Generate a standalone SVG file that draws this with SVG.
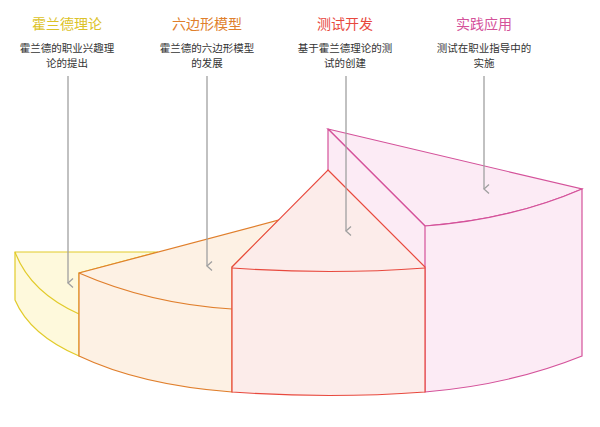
<svg xmlns="http://www.w3.org/2000/svg" width="600" height="427" viewBox="0 0 600 427">
<style>
.t{font-family:"Noto Sans CJK SC",sans-serif;font-size:14px;text-anchor:middle}
.d{font-family:"Noto Sans CJK SC",sans-serif;font-size:10.5px;fill:#333;text-anchor:middle}
.c{stroke:#a0a0a0;stroke-width:1.3;fill:none}
</style>
<defs><marker id="a" markerWidth="10" markerHeight="10" refX="5" refY="8" orient="auto" markerUnits="userSpaceOnUse" viewBox="0 0 10 10"><path d="M0.5,3 L5,8 L9.5,3" fill="none" stroke="#a0a0a0" stroke-width="1.3"/></marker></defs>
<g id="n4" fill="#fcebf5" stroke="#d4529a" stroke-width="1.2">
<path d="M328,129 L582,189 Q510,220 425,226 L328,129 Z"/>
<path d="M328,129 L425,226 L425,392 L328,392 Z" stroke="none"/>
<path d="M328,129 L328,170 M328,129 L425,226" fill="none"/>
<path d="M425,226 Q510,220 582,189 L582,356 Q510,385 425,392 Z"/>
</g>
<g id="n1" fill="#fef9dc" stroke="#e2cb2a" stroke-width="1.2">
<path d="M15,252 L158,252 L79,273 L79,356 Q30,335 15,300 Z"/>
<path d="M15,252 Q30,292 79,314" fill="none"/>
</g>
<g id="n2" fill="#fdf1e4" stroke="#e07f2c" stroke-width="1.2">
<path d="M79,273 L279,220 L232,267 L232,392 Q140,385 79,356 Z"/>
<path d="M79,273 Q150,304 232,309" fill="none"/>
</g>
<g id="n3" fill="#fcecea" stroke="#e8493e" stroke-width="1.2">
<path d="M328,170 L425,267 L425,392 Q330,399 232,392 L232,267 Z"/>
<path d="M232,268 Q330,275 425,268" fill="none"/>
</g>
<g id="labels">
<text class="t" x="67" y="29" fill="#dcc228">霍兰德理论</text>
<text class="d" x="67" y="52">霍兰德的职业兴趣理</text><text class="d" x="67" y="67">论的提出</text>
<text class="t" x="207" y="29" fill="#e07f2c">六边形模型</text>
<text class="d" x="207" y="52">霍兰德的六边形模型</text><text class="d" x="207" y="67">的发展</text>
<text class="t" x="345" y="29" fill="#e8493e">测试开发</text>
<text class="d" x="345" y="52">基于霍兰德理论的测</text><text class="d" x="345" y="67">试的创建</text>
<text class="t" x="484" y="29" fill="#d4529a">实践应用</text>
<text class="d" x="484" y="52">测试在职业指导中的</text><text class="d" x="484" y="67">实施</text>
</g>
<g id="connectors">
<line class="c" x1="68" y1="76" x2="68" y2="283" marker-end="url(#a)"/>
<line class="c" x1="207" y1="76" x2="207" y2="266" marker-end="url(#a)"/>
<line class="c" x1="346" y1="76" x2="346" y2="231" marker-end="url(#a)"/>
<line class="c" x1="484" y1="76" x2="484" y2="189" marker-end="url(#a)"/>
</g>
</svg>
